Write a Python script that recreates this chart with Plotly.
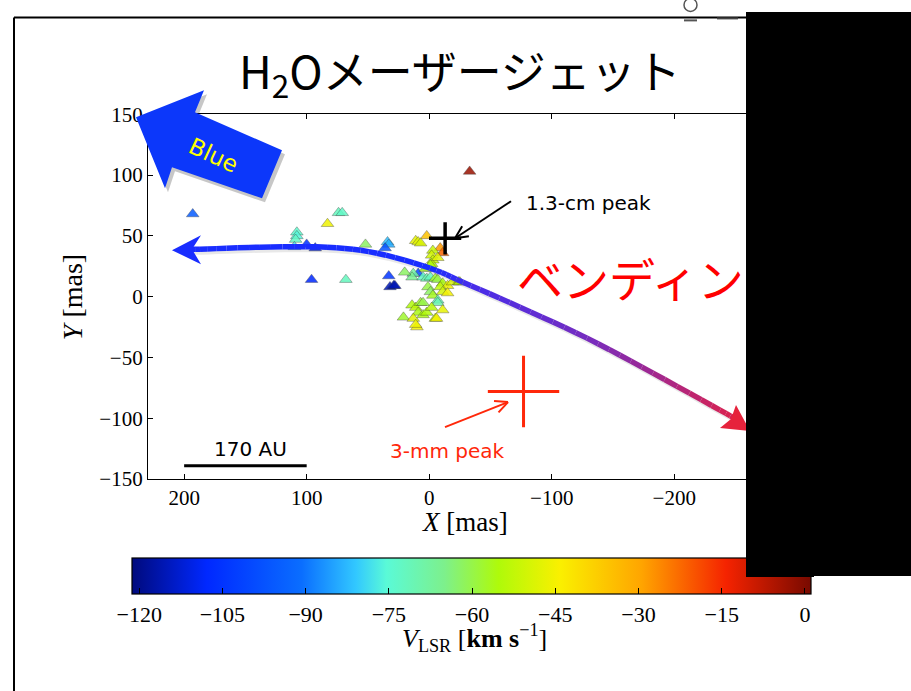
import math
import plotly.graph_objects as go

W, H = 911, 691

# ---------------- data ----------------
x_mas = [193, -33, 74, 71, 83, 108, 108, 109, 110, 100, 93, 52, 34, 33, 36, 2, 11, 9, 7, 96,
         68, 33, 32, 29, 28, -9, -11, -3, -2, -3, -2, 9, 13, 14, 5, 2, -1, -5, -7, -11,
         -15, -19, -24, -9, -11, -15, 1, -1, -3, -7, -7, 14, 11, 9, 21, 13, 10, -5, 5, 2,
         -2, -11, 7, 5, 11, -6, -25, -7, -1, 3, 20]
y_mas = [68, 103, 69, 69, 60, 53, 50, 47, 41, 43, 40, 43, 45, 43, 40, 50, 46, 45, 44, 14,
         14, 17, 8, 9, 9, 40, 36, 38, 34, 30, 27, 19, 19, 16, 16, 15, 16, 15, 14, 11,
         9, 12, 12, 8, 4, 3, 8, 4, 1, -3, -5, -7, -9, -13, -17, -18, -25, -18, -15, -13,
         -9, -11, -5, -5, -23, -18, 12, 32, 26, 23, 20]
v_lsr = [-95, -3, -72, -73, -46, -74, -76, -73, -78, -106, -110, -62, -82, -84, -97, -35, -47, -48, -49, -108,
         -72, -105, -115, -113, -116, -28, -22, -52, -50, -51, -53, -100, -68, -66, -73, -70, -72, -58, -60, -56,
         -46, -49, -52, -53, -50, -45, -60, -62, -57, -72, -70, -55, -53, -56, -58, -48, -45, -52, -56, -55,
         -54, -47, -58, -60, -46, -45, -54, -48, -55, -57, -62]

peak_13cm_x = [-13]
peak_13cm_y = [48]
peak_3mm_x = [-77]
peak_3mm_y = [-78]
scalebar_x = [200, 100]
scalebar_y = [-139, -139]

x_ticks = [200, 100, 0, -100, -200]
y_ticks = [-150, -100, -50, 0, 50, 100, 150]
cbar_ticks = [-120, -105, -90, -75, -60, -45, -30, -15, 0]
CMIN, CMAX = -121.3, 1.1

# ---------------- helpers (target pixel -> paper) ----------------
SQ, OFF = 0.966, 11.6   # vertical compensation for the page capture


def YC(y):
    return (y - OFF) / SQ


def PX(x):
    return x / W


def PY(y):
    return 1 - YC(y) / H


def poly(pts, close=True):
    s = "M " + " L ".join(f"{PX(x):.5f},{PY(y):.5f}" for x, y in pts)
    return s + (" Z" if close else "")


jet = [
    [0.0, "rgb(0,10,125)"],
    [0.11, "rgb(0,40,255)"],
    [0.25, "rgb(10,110,255)"],
    [0.33, "rgb(50,200,255)"],
    [0.375, "rgb(90,250,215)"],
    [0.46, "rgb(125,240,140)"],
    [0.54, "rgb(175,250,10)"],
    [0.63, "rgb(250,240,0)"],
    [0.75, "rgb(255,165,0)"],
    [0.875, "rgb(245,35,0)"],
    [1.0, "rgb(120,10,0)"],
]

CB_L, CB_R, CB_T, CB_B = 132, 811, 558, 593
BOX_L, BOX_B = 746, 576

fig = go.Figure()

fig.add_trace(go.Scatter(
    x=x_mas, y=y_mas, mode="markers",
    marker=dict(symbol="triangle-up", size=11, color=v_lsr, colorscale=jet,
                cmin=CMIN, cmax=CMAX, opacity=0.85,
                line=dict(width=0.7, color="rgba(40,40,40,0.55)"),
                colorbar=dict(orientation="h", x=PX((CB_L + CB_R) / 2), xanchor="center",
                              y=PY(CB_T), yanchor="top", len=CB_R - CB_L, lenmode="pixels",
                              thickness=YC(CB_B) - YC(CB_T), thicknessmode="pixels", xpad=0, ypad=0,
                              outlinecolor="black", outlinewidth=1.2,
                              ticks="inside", ticklen=6, tickcolor="black",
                              tickvals=cbar_ticks,
                              tickfont=dict(family="Liberation Serif", size=22, color="black"))),
    showlegend=False, hoverinfo="skip"))

fig.add_trace(go.Scatter(x=scalebar_x, y=scalebar_y, mode="lines",
                         line=dict(color="black", width=3), showlegend=False))
fig.add_trace(go.Scatter(x=peak_13cm_x, y=peak_13cm_y, mode="markers",
                         marker=dict(symbol="cross-thin", size=23,
                                     line=dict(color="black", width=3.5)), showlegend=False))
fig.add_trace(go.Scatter(x=peak_3mm_x, y=peak_3mm_y, mode="markers",
                         marker=dict(symbol="cross-thin", size=51,
                                     line=dict(color="rgb(255,40,10)", width=3)), showlegend=False))

# cut-off slide text at the very top (clipped by an invisible full-page overlay axis)
fig.add_trace(go.Scatter(x=[505], y=[YC(5)], mode="text", text=["ean"], xaxis="x2", yaxis="y2",
                         textfont=dict(family="Noto Sans CJK JP", size=16, color="black"),
                         cliponaxis=True, showlegend=False, hoverinfo="skip"))

ax_font = dict(family="Liberation Serif", size=21, color="black")
fig.update_layout(
    xaxis=dict(range=[229.5, -270], domain=[PX(148), PX(760)], tickvals=x_ticks,
               ticks="inside", ticklen=5, tickcolor="black", showline=True, linecolor="black",
               linewidth=1.2, mirror="allticks", showgrid=False, zeroline=False, tickfont=ax_font),
    yaxis=dict(range=[-150, 150], domain=[PY(479), PY(114)], tickvals=y_ticks,
               ticks="inside", ticklen=5, tickcolor="black", showline=True, linecolor="black",
               linewidth=1.2, mirror="allticks", showgrid=False, zeroline=False, tickfont=ax_font),
    xaxis2=dict(range=[0, W], domain=[0, 1], visible=False, anchor="y2"),
    yaxis2=dict(range=[H, 0], domain=[0, 1], visible=False, anchor="x2"),
)

shapes = []

# colorbar ticks along the top edge (inside)
for tv in cbar_ticks:
    xp = CB_L + (tv - CMIN) / (CMAX - CMIN) * (CB_R - CB_L)
    shapes.append(dict(type="line", xref="paper", yref="paper", x0=PX(xp), x1=PX(xp),
                       y0=PY(CB_T), y1=PY(CB_T + 6), line=dict(color="black", width=1)))

# slide frame and window icons
shapes.append(dict(type="line", xref="paper", yref="paper", x0=PX(14), x1=PX(14), y0=PY(17), y1=PY(700),
                   line=dict(color="black", width=2)))
shapes.append(dict(type="line", xref="paper", yref="paper", x0=PX(14), x1=PX(911), y0=PY(17), y1=PY(17),
                   line=dict(color="black", width=2)))
shapes.append(dict(type="circle", xref="paper", yref="paper", x0=PX(684), x1=PX(697), y0=PY(-2), y1=PY(11),
                   fillcolor="white", line=dict(color="#555", width=1.5)))
shapes.append(dict(type="line", xref="paper", yref="paper", x0=PX(684), x1=PX(697), y0=PY(20), y1=PY(20),
                   line=dict(color="#555", width=2)))
shapes.append(dict(type="line", xref="paper", yref="paper", x0=PX(717), x1=PX(738), y0=PY(18), y1=PY(18),
                   line=dict(color="#444", width=2)))

# blue block arrow (with shadow)
blue_arrow = [(136, 117), (204, 90), (195, 112), (282, 150), (262, 198), (172, 167), (165, 188)]
shapes.append(dict(type="path", xref="paper", yref="paper", layer="above",
                   path=poly([(x + 3, y + 4) for x, y in blue_arrow]),
                   fillcolor="rgba(0,0,0,0.22)", line=dict(width=0)))
shapes.append(dict(type="path", xref="paper", yref="paper", layer="above",
                   path=poly(blue_arrow), fillcolor="rgb(12,55,250)", line=dict(width=0)))

# bending curve with gradient
ctrl = [(188, 249), (200, 249), (260, 247), (327, 247), (377, 253), (430, 268), (463, 282),
        (520, 307), (587, 338), (653, 373), (720, 410), (738, 420)]


def cr(p0, p1, p2, p3, t):
    t2, t3 = t * t, t * t * t
    return tuple(0.5 * ((2 * p1[i]) + (-p0[i] + p2[i]) * t + (2 * p0[i] - 5 * p1[i] + 4 * p2[i] - p3[i]) * t2
                        + (-p0[i] + 3 * p1[i] - 3 * p2[i] + p3[i]) * t3) for i in range(2))


pts = []
ext = [ctrl[0]] + ctrl + [ctrl[-1]]
for i in range(1, len(ext) - 2):
    for k in range(6):
        pts.append(cr(ext[i - 1], ext[i], ext[i + 1], ext[i + 2], k / 6))
pts.append(ctrl[-1])

stops = [(0, (25, 45, 255)), (430, (25, 45, 255)), (470, (70, 45, 235)), (590, (120, 45, 190)),
         (660, (165, 40, 140)), (720, (210, 35, 90)), (760, (230, 35, 60))]


def col(x):
    for (a, ca), (b, cb) in zip(stops[:-1], stops[1:]):
        if a <= x <= b:
            t = (x - a) / (b - a)
            return "rgb(%d,%d,%d)" % tuple(int(ca[j] + (cb[j] - ca[j]) * t) for j in range(3))
    return "rgb(%d,%d,%d)" % stops[-1][1]


shapes.append(dict(type="path", xref="paper", yref="paper", layer="above",
                   path=poly([(x + 2, y + 3) for x, y in pts], close=False),
                   line=dict(color="rgba(0,0,0,0.09)", width=5)))
for a, b in zip(pts[:-1], pts[1:]):
    shapes.append(dict(type="path", xref="paper", yref="paper", layer="above",
                       path=poly([a, b], close=False),
                       line=dict(color=col((a[0] + b[0]) / 2), width=5.5)))

shapes.append(dict(type="path", xref="paper", yref="paper", layer="above",
                   path=poly([(172, 250), (201, 235), (192, 249), (201, 264)]),
                   fillcolor="rgb(25,45,255)", line=dict(width=0)))
shapes.append(dict(type="path", xref="paper", yref="paper", layer="above",
                   path=poly([(750, 431), (736, 405), (731, 419), (720, 428)]),
                   fillcolor="rgb(230,35,60)", line=dict(width=0)))


def pointer(tail, head, color, width=2):
    dx, dy = head[0] - tail[0], head[1] - tail[1]
    L = math.hypot(dx, dy)
    ux, uy = dx / L, dy / L
    res = [dict(type="path", xref="paper", yref="paper", layer="above",
                path=poly([tail, head], close=False), line=dict(color=color, width=width))]
    for ang in (0.45, -0.45):
        c, s = math.cos(ang), math.sin(ang)
        bx = head[0] - 14 * (ux * c - uy * s)
        by = head[1] - 14 * (ux * s + uy * c)
        res.append(dict(type="path", xref="paper", yref="paper", layer="above",
                        path=poly([(bx, by), head], close=False), line=dict(color=color, width=width)))
    return res


shapes += pointer((511, 201), (455, 238), "black")
shapes += pointer((445, 427), (508, 402), "rgb(255,40,10)")

# black cover box
shapes.append(dict(type="rect", xref="paper", yref="paper", layer="above",
                   x0=PX(BOX_L), x1=1, y0=PY(BOX_B), y1=1,
                   fillcolor="black", line=dict(width=0)))

annotations = []


def txt(text, x, y, size, color="black", family="Noto Sans CJK JP", angle=0, **kw):
    annotations.append(dict(text=text, x=PX(x), y=PY(y), xref="paper", yref="paper", showarrow=False,
                            xanchor="center", yanchor="middle", textangle=angle,
                            font=dict(size=size, color=color, family=family), **kw))


txt("H<sub>2</sub>Oメーザージェット", 460, 72, 45)
txt("ベンディン", 630, 277, 46, color="rgb(255,0,0)")
txt("1.3-cm peak", 588, 203, 20, family="DejaVu Sans")
txt("3-mm peak", 447, 451, 20, color="rgb(255,40,10)", family="DejaVu Sans")
txt("170 AU", 250, 449, 20, family="DejaVu Sans")
txt("Blue", 213, 155, 23, color="rgb(255,255,0)", family="DejaVu Sans", angle=25)
txt("<i>Y</i> [mas]", 72, 297, 28, family="Liberation Serif", angle=-90)
txt("<i>X</i> [mas]", 465, 522, 27, family="Liberation Serif")
txt("<i>V</i><sub>LSR</sub> [<b>km s</b><sup>−1</sup>]", 474, 638, 26, family="Liberation Serif")

# black patch over the colour bar corner (annotations sit above the colour bar)
annotations.append(dict(text=" ", x=PX(BOX_L), y=PY(CB_T - 2), xref="paper", yref="paper",
                        showarrow=False, xanchor="left", yanchor="top",
                        width=CB_R - BOX_L + 3, height=YC(BOX_B) - YC(CB_T - 2), bgcolor="black",
                        borderpad=0, borderwidth=0, font=dict(size=1)))

fig.update_layout(width=W, height=H, margin=dict(l=0, r=0, t=0, b=0),
                  paper_bgcolor="white", plot_bgcolor="rgba(0,0,0,0)",
                  shapes=shapes, annotations=annotations, showlegend=False)

fig.write_html("out.html")
